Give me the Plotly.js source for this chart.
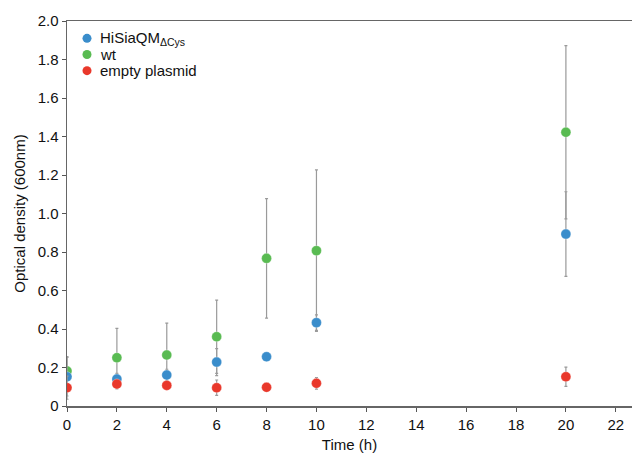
<!DOCTYPE html>
<html>
<head>
<meta charset="utf-8">
<script src="https://cdn.plot.ly/plotly-3.0.1.min.js"></script>
<style>html,body{margin:0;padding:0;background:#fff;}#chart{width:632px;height:453px;}</style>
</head>
<body>
<div id="chart"></div>
<script>
// Data
var timeH = [0, 2, 4, 6, 8, 10, 20];

var hisiaName = "HiSiaQM<sub>ΔCys</sub>";
var hisiaOD  = [0.152, 0.140, 0.161, 0.228, 0.256, 0.433, 0.893];
var hisiaErr = [0.10, 0.03, 0.03, 0.07, 0.0, 0.04, 0.22];

var wtName = "wt";
var wtOD  = [0.182, 0.251, 0.265, 0.360, 0.767, 0.807, 1.422];
var wtErr = [0.075, 0.152, 0.166, 0.19, 0.31, 0.42, 0.45];

var emptyName = "empty plasmid";
var emptyOD  = [0.095, 0.114, 0.107, 0.095, 0.097, 0.118, 0.152];
var emptyErr = [0.06, 0.025, 0.015, 0.04, 0.0, 0.03, 0.05];

var yTickVals = [0, 0.2, 0.4, 0.6, 0.8, 1.0, 1.2, 1.4, 1.6, 1.8, 2.0];
var yTickText = ["0", "0.2", "0.4", "0.6", "0.8", "1.0", "1.2", "1.4", "1.6", "1.8", "2.0"];
var xTickVals = [0, 2, 4, 6, 8, 10, 12, 14, 16, 18, 20, 22];

var colBlue = "#3a8dcb", colGreen = "#59bb52", colRed = "#e9382b";

function series(name, x, y, err, color) {
  return {
    type: "scatter", mode: "markers", name: name, x: x, y: y,
    marker: {color: color, size: 10, line: {color: "rgba(255,255,255,0.6)", width: 0.5}},
    error_y: {type: "data", array: err, visible: true, color: "#9a9a9a", thickness: 1.2, width: 1.5}
  };
}

var traces = [
  series(wtName, timeH, wtOD, wtErr, colGreen),
  series(hisiaName, timeH, hisiaOD, hisiaErr, colBlue),
  series(emptyName, timeH, emptyOD, emptyErr, colRed)
];

// Manual legend (compact row spacing as in the reference)
var legendNames = [hisiaName, wtName, emptyName];
var legendColors = [colBlue, colGreen, colRed];
var legendRowY = [0.955, 0.913, 0.871];
var legendMarkX = 0.0354, legendTextX = 0.0566;

var shapes = [], annotations = [];
for (var i = 0; i < legendNames.length; i++) {
  shapes.push({type: "circle", xref: "paper", yref: "paper", xsizemode: "pixel", ysizemode: "pixel",
    xanchor: legendMarkX, yanchor: legendRowY[i], x0: -4.5, x1: 4.5, y0: -4.5, y1: 4.5,
    fillcolor: legendColors[i], line: {width: 0}});
  annotations.push({xref: "paper", yref: "paper", x: legendTextX, y: legendRowY[i],
    xanchor: "left", yanchor: "middle", showarrow: false, text: legendNames[i],
    borderpad: 0, font: {size: 15, color: "#111"}});
}

var layout = {
  width: 632, height: 453,
  margin: {l: 67, r: 0, t: 21, b: 47},
  paper_bgcolor: "#fff", plot_bgcolor: "#fff",
  font: {family: "Liberation Sans, Arial, sans-serif", color: "#111", size: 14},
  showlegend: false,
  shapes: shapes,
  annotations: annotations,
  xaxis: {
    range: [0, 22.65], tickvals: xTickVals, ticks: "outside", ticklen: 4, tickwidth: 1,
    tickcolor: "#555", showline: true, linecolor: "#666", linewidth: 1.5, mirror: true,
    showgrid: false, zeroline: false, tickfont: {size: 15},
    title: {text: "Time (h)", font: {size: 15}, standoff: 8}
  },
  yaxis: {
    range: [0, 2.0], tickvals: yTickVals, ticktext: yTickText, ticks: "outside", ticklen: 4,
    tickwidth: 1, tickcolor: "#555", showline: true, linecolor: "#666", linewidth: 1.5,
    showgrid: false, zeroline: false, tickfont: {size: 15},
    title: {text: "Optical density (600nm)", font: {size: 15}, standoff: 8}
  }
};

Plotly.newPlot("chart", traces, layout, {displayModeBar: false, staticPlot: true});
</script>
</body>
</html>
